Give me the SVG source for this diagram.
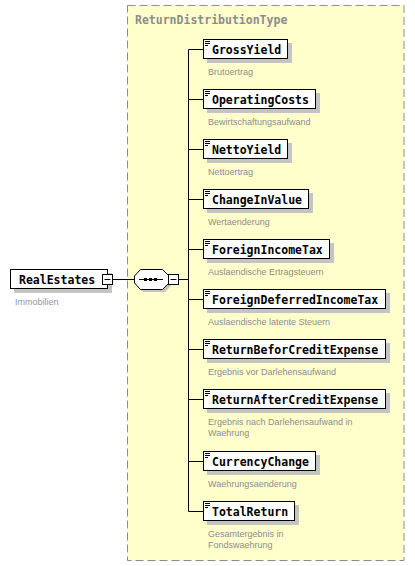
<svg xmlns="http://www.w3.org/2000/svg" width="415" height="566" viewBox="0 0 415 566">
<style>
.bg{fill:#ffffff}
.cont{fill:#ffffcc;stroke:#8c8c8c;stroke-width:1;stroke-dasharray:8,4}
.title{font-family:"DejaVu Sans Mono","Liberation Mono",monospace;font-weight:bold;font-size:11.5px;fill:#8c8c8c}
.sh{fill:#c4c4c4}
.box{fill:#ffffff;stroke:#000000;stroke-width:1}
.name{font-family:"DejaVu Sans Mono","Liberation Mono",monospace;font-weight:bold;font-size:11.5px;fill:#000000}
.desc{font-family:"Liberation Sans",Arial,sans-serif;font-size:9px;fill:#8c8c8c}
.ln{stroke:#000000;stroke-width:1;fill:none}
.ic{stroke:#000000;stroke-width:1}
</style>
<rect class="bg" x="0" y="0" width="415" height="566"/>
<rect class="cont" x="127.5" y="5.5" width="276.5" height="555"/>
<text class="title" x="135" y="24">ReturnDistributionType</text>

<g id="connectors">
<path class="ln" d="M113,279.5H134.5 M179,279.5H188.5 M188.5,49.5V511.5"/>
<path class="ln" d="M188.5,49.5H203 M188.5,99.5H203 M188.5,149.5H203 M188.5,199.5H203 M188.5,249.5H203 M188.5,299.5H203 M188.5,349.5H203 M188.5,399.5H203 M188.5,461.5H203 M188.5,511.5H203"/>
</g>

<g id="RealEstates">
<rect class="sh" x="14" y="273" width="98" height="20"/>
<rect class="box" x="10.5" y="269.5" width="97" height="19"/>
<text class="name" x="19" y="283.5">RealEstates</text>
<rect class="box" x="102.5" y="274.5" width="10" height="10"/>
<path class="ic" d="M104.5,279.5H110.5"/>
<text class="desc" x="15" y="305" style="fill:#8d98ad">Immobilien</text>
</g>

<g id="sequence">
<polygon class="sh" points="137,279 143,272 165,272 171,278 171,286 165,292 143,292 137,286"/>
<polygon class="box" points="134.5,276 140.5,269.5 162.5,269.5 168.5,275.5 168.5,283.5 162.5,289.5 140.5,289.5 134.5,283"/>
<path class="ln" d="M139,279.5H163"/>
<rect x="144" y="278" width="3" height="3" fill="#000"/>
<rect x="149" y="278" width="3" height="3" fill="#000"/>
<rect x="154" y="278" width="3" height="3" fill="#000"/>
<rect class="box" x="168.5" y="274.5" width="10" height="10"/>
<path class="ic" d="M170.5,279.5H176.5"/>
</g>

<defs>
<g id="icon"><path class="ic" d="M205,41.5H210 M205,43.5H210 M205,45.5H208"/></g>
</defs>

<g id="GrossYield">
<rect class="sh" x="207" y="43" width="85" height="20"/>
<rect class="box" x="203.5" y="39.5" width="84" height="19"/>
<use href="#icon"/>
<text class="name" x="212" y="54">GrossYield</text>
<text class="desc" x="208" y="75">Brutoertrag</text>
</g>

<g id="OperatingCosts" transform="translate(0,50)">
<rect class="sh" x="207" y="43" width="113" height="20"/>
<rect class="box" x="203.5" y="39.5" width="112" height="19"/>
<use href="#icon"/>
<text class="name" x="212" y="54">OperatingCosts</text>
<text class="desc" x="208" y="75">Bewirtschaftungsaufwand</text>
</g>

<g id="NettoYield" transform="translate(0,100)">
<rect class="sh" x="207" y="43" width="85" height="20"/>
<rect class="box" x="203.5" y="39.5" width="84" height="19"/>
<use href="#icon"/>
<text class="name" x="212" y="54">NettoYield</text>
<text class="desc" x="208" y="75">Nettoertrag</text>
</g>

<g id="ChangeInValue" transform="translate(0,150)">
<rect class="sh" x="207" y="43" width="106" height="20"/>
<rect class="box" x="203.5" y="39.5" width="105" height="19"/>
<use href="#icon"/>
<text class="name" x="212" y="54">ChangeInValue</text>
<text class="desc" x="208" y="75">Wertaenderung</text>
</g>

<g id="ForeignIncomeTax" transform="translate(0,200)">
<rect class="sh" x="207" y="43" width="127" height="20"/>
<rect class="box" x="203.5" y="39.5" width="126" height="19"/>
<use href="#icon"/>
<text class="name" x="212" y="54">ForeignIncomeTax</text>
<text class="desc" x="208" y="75">Auslaendische Ertragsteuern</text>
</g>

<g id="ForeignDeferredIncomeTax" transform="translate(0,250)">
<rect class="sh" x="207" y="43" width="183" height="20"/>
<rect class="box" x="203.5" y="39.5" width="182" height="19"/>
<use href="#icon"/>
<text class="name" x="212" y="54">ForeignDeferredIncomeTax</text>
<text class="desc" x="208" y="75">Auslaendische latente Steuern</text>
</g>

<g id="ReturnBeforCreditExpense" transform="translate(0,300)">
<rect class="sh" x="207" y="43" width="183" height="20"/>
<rect class="box" x="203.5" y="39.5" width="182" height="19"/>
<use href="#icon"/>
<text class="name" x="212" y="54">ReturnBeforCreditExpense</text>
<text class="desc" x="208" y="75">Ergebnis vor Darlehensaufwand</text>
</g>

<g id="ReturnAfterCreditExpense" transform="translate(0,350)">
<rect class="sh" x="207" y="43" width="183" height="20"/>
<rect class="box" x="203.5" y="39.5" width="182" height="19"/>
<use href="#icon"/>
<text class="name" x="212" y="54">ReturnAfterCreditExpense</text>
<text class="desc" x="208" y="75">Ergebnis nach Darlehensaufwand in</text>
<text class="desc" x="208" y="86">Waehrung</text>
</g>

<g id="CurrencyChange" transform="translate(0,412)">
<rect class="sh" x="207" y="43" width="113" height="20"/>
<rect class="box" x="203.5" y="39.5" width="112" height="19"/>
<use href="#icon"/>
<text class="name" x="212" y="54">CurrencyChange</text>
<text class="desc" x="208" y="75">Waehrungsaenderung</text>
</g>

<g id="TotalReturn" transform="translate(0,462)">
<rect class="sh" x="207" y="43" width="92" height="20"/>
<rect class="box" x="203.5" y="39.5" width="91" height="19"/>
<use href="#icon"/>
<text class="name" x="212" y="54">TotalReturn</text>
<text class="desc" x="208" y="75">Gesamtergebnis in</text>
<text class="desc" x="208" y="86">Fondswaehrung</text>
</g>
</svg>
